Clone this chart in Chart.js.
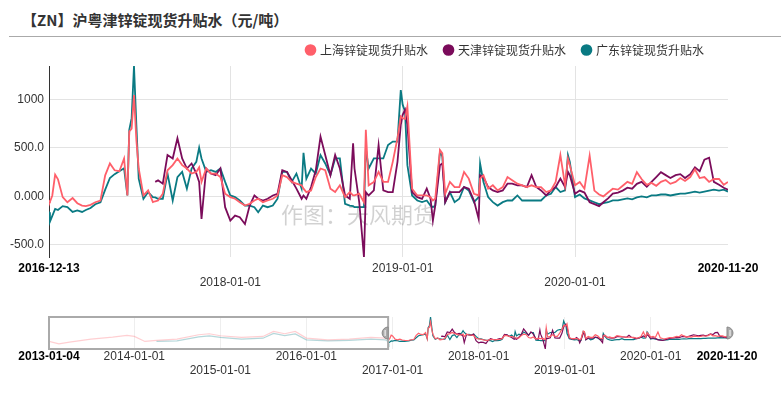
<!DOCTYPE html>
<html>
<head>
<meta charset="utf-8">
<script src="https://cdn.jsdelivr.net/npm/chart.js@4.4.1/dist/chart.umd.min.js"></script>
<style>
  body { margin: 0; background: #fff; width: 781px; height: 395px; overflow: hidden; position: relative; }
  #title { position: absolute; left: 22px; top: 9px; font: bold 15px "Noto Sans CJK SC", sans-serif; color: #333; line-height: 22px; }
  #rule { position: absolute; left: 9px; right: 0; top: 36px; height: 1px; background: #aaa; }
  #main { position: absolute; left: 0; top: 27px; }
  #nav { position: absolute; left: 0; top: 300px; }
</style>
</head>
<body>
<div id="title">【ZN】沪粤津锌锭现货升贴水（元/吨）</div>
<div id="rule"></div>
<canvas id="main" width="781" height="268"></canvas>
<canvas id="nav" width="781" height="80"></canvas>
<script>
// dates (pre-2016-12-13 part only shows up in the zoom strip)
const dates = [
  '2013-01-04','2013-02-15','2013-04-01','2013-07-01','2013-10-01','2013-12-01','2014-01-01','2014-02-15',
  '2014-04-05','2014-07-01','2014-10-01','2014-11-15','2015-01-01','2015-04-01','2015-07-01','2015-08-15',
  '2015-10-01','2015-11-15','2016-01-01','2016-04-01','2016-07-01','2016-10-01','2016-12-01',
  '2016-12-13','2016-12-15','2016-12-20','2016-12-26',
  '2017-01-01','2017-01-11','2017-01-21','2017-02-01','2017-02-11','2017-02-21','2017-03-01','2017-03-11','2017-03-21',
  '2017-04-01','2017-04-11','2017-04-21','2017-05-01','2017-05-11','2017-05-21','2017-05-28',
  '2017-06-01','2017-06-06','2017-06-11','2017-06-16','2017-06-21','2017-07-01','2017-07-11','2017-07-21','2017-07-26',
  '2017-08-01','2017-08-11','2017-08-21','2017-09-01','2017-09-11','2017-09-21',
  '2017-10-01','2017-10-11','2017-10-21','2017-10-27','2017-11-01','2017-11-11','2017-11-21','2017-12-01','2017-12-11','2017-12-21',
  '2018-01-01','2018-01-11','2018-01-21','2018-02-01','2018-02-11','2018-02-21','2018-03-01','2018-03-11','2018-03-21',
  '2018-04-01','2018-04-11','2018-04-21','2018-05-01','2018-05-11','2018-05-21','2018-06-01','2018-06-05','2018-06-11','2018-06-21',
  '2018-07-01','2018-07-11','2018-07-21','2018-08-01','2018-08-11','2018-08-21','2018-09-01','2018-09-11','2018-09-18','2018-09-21',
  '2018-10-01','2018-10-11','2018-10-15','2018-10-21','2018-11-01','2018-11-11','2018-11-21','2018-12-01','2018-12-11','2018-12-21','2018-12-28',
  '2019-01-01','2019-01-06','2019-01-11','2019-01-21','2019-02-01','2019-02-11','2019-02-21',
  '2019-03-01','2019-03-06','2019-03-11','2019-03-21','2019-03-26','2019-04-01','2019-04-11','2019-04-21',
  '2019-05-01','2019-05-11','2019-05-21','2019-06-01','2019-06-11','2019-06-14','2019-06-21',
  '2019-07-01','2019-07-11','2019-07-21','2019-08-01','2019-08-11','2019-08-21','2019-09-01','2019-09-11','2019-09-21',
  '2019-10-01','2019-10-11','2019-10-21','2019-11-01','2019-11-11','2019-11-21','2019-12-01','2019-12-11','2019-12-17','2019-12-21',
  '2020-01-01','2020-01-11','2020-01-21','2020-02-01','2020-02-11','2020-02-21','2020-03-01','2020-03-11','2020-03-21',
  '2020-04-01','2020-04-11','2020-04-21','2020-05-01','2020-05-11','2020-05-21','2020-06-01','2020-06-11','2020-06-21',
  '2020-07-01','2020-07-11','2020-07-21','2020-08-01','2020-08-11','2020-08-21','2020-09-01','2020-09-11','2020-09-21',
  '2020-10-01','2020-10-11','2020-10-21','2020-11-01','2020-11-11','2020-11-20'
];

const shanghai = [
  -160,-304,-201,-16,108,211,149,-160,
  -98,-16,252,314,190,87,149,458,
  314,458,46,-57,-16,87,46,
  -52,-55,10,225,
  177,-7,-60,-17,-70,-94,-100,-87,-60,
  -42,218,340,270,260,392,10,
  670,700,1045,583,288,10,62,-59,-50,
  -42,28,270,323,392,323,
  288,236,253,300,150,288,236,236,200,28,
  -7,-24,-59,-94,-76,-42,-24,-59,-42,
  -24,10,219,200,150,132,115,80,45,62,
  200,288,270,80,45,115,-7,45,10,10,
  28,-59,687,115,150,253,150,150,357,600,826,
  808,800,930,80,10,10,10,
  -7,-42,-24,479,444,28,150,97,
  97,253,184,28,10,184,219,
  80,115,62,97,200,167,132,115,97,
  115,97,97,45,62,150,427,115,392,323,
  115,150,80,420,60,20,0,40,80,
  70,110,150,130,250,180,120,140,110,
  150,170,130,150,190,160,200,280,190,
  200,150,180,180,120,150
];

const tianjin = [
  null,null,null,null,null,null,null,null,
  null,null,null,null,null,null,null,null,
  null,null,null,null,null,null,null,
  null,null,null,null,
  null,null,null,null,null,null,null,null,null,
  null,null,null,null,null,null,null,
  null,null,null,null,null,null,null,null,150,
  167,132,427,392,600,392,
  288,340,236,150,-232,288,236,219,288,-111,
  -250,-198,-215,-285,-94,10,-24,-42,-24,
  10,28,270,253,167,80,-24,10,-24,97,
  270,618,427,219,427,288,10,-24,548,288,
  -59,-625,45,10,62,530,62,45,45,357,739,
  843,895,739,45,-7,-24,80,
  -24,-250,-94,323,340,-59,45,45,
  45,97,80,-42,-232,219,200,
  97,62,45,62,132,132,115,115,97,
  219,97,62,10,62,97,184,97,253,219,
  28,60,40,-60,-80,-100,-60,-20,30,
  40,60,90,80,130,150,100,150,200,
  250,220,190,220,230,190,230,300,260,
  380,400,150,120,90,70
];

const guangdong = [
  null,null,null,null,null,null,null,null,
  -150,-130,120,180,90,-20,40,330,
  200,300,-60,-130,-90,-20,-60,
  -163,-260,-200,-128,
  -140,-100,-110,-160,-145,-160,-140,-120,-80,
  -60,70,190,230,260,290,10,
  687,808,1346,740,184,-24,45,-7,-10,
  -24,-24,236,-42,200,253,
  80,288,357,503,392,253,270,253,288,150,
  10,-7,-42,-94,-94,-111,-163,-94,-111,
  -94,-24,253,253,150,236,80,451,184,288,
  236,427,340,219,392,392,-76,-94,-100,-111,
  -111,-111,496,288,392,392,392,530,566,566,1097,
  947,878,323,10,-42,-59,-42,
  -94,-111,-94,461,410,-59,45,-59,
  -24,97,62,-59,-7,340,150,
  -7,-59,-94,-59,-42,-42,10,-42,-42,
  -42,-42,-42,10,28,97,45,62,427,357,
  -7,20,-20,-40,-60,-80,-70,-60,-40,
  -40,-30,-20,-30,-10,0,-10,10,10,
  20,20,10,20,30,30,40,50,40,
  50,60,70,60,70,50
];

const seriesNames = ['上海锌锭现货升贴水', '天津锌锭现货升贴水', '广东锌锭现货升贴水'];

// axis ticks; row 1 = label pushed down one line
const mainTicks = ['2016-12-13', '2018-01-01', '2019-01-01', '2020-01-01', '2020-11-20'];
const mainRows = [0, 1, 0, 1, 0];
const navTicks = ['2013-01-04', '2014-01-01', '2015-01-01', '2016-01-01', '2017-01-01',
                  '2018-01-01', '2019-01-01', '2020-01-01', '2020-11-20'];
const navRows = [0, 0, 1, 0, 1, 0, 1, 0, 0];
const yTicks = [-500, 0, 500, 1000];
const yTickLabels = ['-500.0', '0.000', '500.0', '1000'];

const latin = '"Liberation Sans", Arial, sans-serif';
const cjk = '"Noto Sans CJK SC", sans-serif';
Chart.defaults.font.family = latin;

const toDay = s => Date.parse(s) / 86400000;
const xs = dates.map(toDay);
const pts = vals => vals.map((v, i) => ({ x: xs[i], y: v }));

const colors = ['#ff5f6a', '#7b0c5b', '#0a7a83'];
const faded = ['rgba(255,95,106,0.3)', 'rgba(123,12,91,0.3)', 'rgba(10,122,131,0.3)'];
const allSeries = [shanghai, tianjin, guangdong];

const allVals = allSeries.flat().filter(v => v !== null);
const yMin = Math.min(...allVals);
const yMax = Math.max(...allVals);

const mainStart = toDay(mainTicks[0]);
const mainEnd = toDay(mainTicks[mainTicks.length - 1]);

const isEdge = (i, n) => i === 0 || i === n - 1;

const watermark = {
  id: 'watermark',
  beforeDatasetsDraw(chart) {
    const ctx = chart.ctx;
    ctx.save();
    ctx.font = '22px ' + cjk;
    ctx.fillStyle = 'rgba(0,0,0,0.18)';
    ctx.textAlign = 'center';
    ctx.textBaseline = 'middle';
    ctx.fillText('作图：天风期货', 358, 188);
    ctx.restore();
  }
};

// legend sits a bit left of the plot's right edge
const legendShift = {
  id: 'legendShift',
  afterLayout(chart) { chart.legend.right -= 7; }
};

new Chart(document.getElementById('main'), {
  type: 'line',
  data: {
    datasets: allSeries.map((vals, k) => ({
      label: seriesNames[k],
      data: pts(vals),
      borderColor: colors[k],
      backgroundColor: colors[k],
      borderWidth: 1.8,
      pointRadius: 0,
      pointHoverRadius: 0
    }))
  },
  options: {
    responsive: false,
    animation: false,
    devicePixelRatio: 1,
    layout: { padding: { left: 0, right: 53, top: 0, bottom: 0 } },
    plugins: {
      legend: {
        position: 'top',
        align: 'end',
        labels: {
          usePointStyle: true,
          pointStyle: 'circle',
          boxWidth: 7,
          boxHeight: 7,
          padding: 17,
          color: '#333',
          font: { family: cjk, size: 12 }
        }
      },
      tooltip: { enabled: false }
    },
    scales: {
      x: {
        type: 'linear',
        min: mainStart,
        max: mainEnd,
        afterBuildTicks: sc => { sc.ticks = mainTicks.map(d => ({ value: toDay(d) })); },
        afterFit: sc => { sc.height = 38; },
        border: { display: false },
        grid: {
          drawTicks: false,
          color: ctx => isEdge(ctx.index, mainTicks.length) ? 'rgba(0,0,0,0)' : '#e3e3e3'
        },
        ticks: {
          autoSkip: false,
          maxRotation: 0,
          padding: 4,
          callback: (v, i) => mainRows[i] ? ['', mainTicks[i]] : mainTicks[i],
          color: ctx => isEdge(ctx.index, mainTicks.length) ? '#000' : '#333',
          font: ctx => ({ family: latin, size: 12, weight: isEdge(ctx.index, mainTicks.length) ? 'bold' : 'normal' })
        }
      },
      y: {
        min: yMin,
        max: yMax,
        afterBuildTicks: sc => { sc.ticks = yTicks.map(v => ({ value: v })); },
        afterFit: sc => { sc.width = 49; },
        border: { display: true, color: '#333', width: 1 },
        grid: { drawTicks: false, color: '#e3e3e3' },
        ticks: {
          padding: 5,
          color: '#333',
          font: { family: latin, size: 12 },
          callback: (v, i) => yTickLabels[i]
        }
      }
    }
  },
  plugins: [watermark, legendShift]
});

// zoom strip under the chart
const navFrame = {
  id: 'navFrame',
  afterDraw(chart) {
    const { ctx, chartArea: a, scales: { x } } = chart;
    const sx = x.getPixelForValue(mainStart);
    const cy = (a.top + a.bottom) / 2;
    ctx.save();
    ctx.strokeStyle = '#aaa';
    ctx.lineWidth = 2;
    ctx.strokeRect(a.left, a.top, sx - a.left, a.bottom - a.top);
    const handle = (hx, dir) => {
      ctx.beginPath();
      if (dir < 0) ctx.arc(hx, cy, 6, Math.PI / 2, Math.PI * 1.5);
      else ctx.arc(hx, cy, 6, -Math.PI / 2, Math.PI / 2);
      ctx.closePath();
      ctx.fillStyle = '#aaa';
      ctx.fill();
      ctx.strokeStyle = '#888';
      ctx.lineWidth = 1;
      ctx.stroke();
      ctx.beginPath();
      ctx.moveTo(hx + dir * 3, cy - 3);
      ctx.lineTo(hx + dir * 3, cy + 3);
      ctx.strokeStyle = '#fff';
      ctx.stroke();
    };
    handle(sx, -1);
    handle(a.right, 1);
    ctx.restore();
  }
};

new Chart(document.getElementById('nav'), {
  type: 'line',
  data: {
    datasets: allSeries.map((vals, k) => ({
      data: pts(vals),
      borderColor: colors[k],
      borderWidth: 1.2,
      pointRadius: 0,
      pointHoverRadius: 0,
      segment: { borderColor: ctx => ctx.p1.parsed.x <= mainStart ? faded[k] : undefined }
    }))
  },
  options: {
    responsive: false,
    animation: false,
    devicePixelRatio: 1,
    layout: { padding: { left: 49, right: 54, top: 17, bottom: 0 } },
    plugins: { legend: { display: false }, tooltip: { enabled: false } },
    scales: {
      x: {
        type: 'linear',
        min: toDay(navTicks[0]),
        max: toDay(navTicks[navTicks.length - 1]),
        afterBuildTicks: sc => { sc.ticks = navTicks.map(d => ({ value: toDay(d) })); },
        afterFit: sc => { sc.height = 31; },
        border: { display: false },
        grid: {
          drawTicks: false,
          color: ctx => isEdge(ctx.index, navTicks.length) ? 'rgba(0,0,0,0)' : '#eee'
        },
        ticks: {
          autoSkip: false,
          maxRotation: 0,
          padding: 0,
          callback: (v, i) => navRows[i] ? ['', navTicks[i]] : navTicks[i],
          color: ctx => isEdge(ctx.index, navTicks.length) ? '#000' : '#333',
          font: ctx => ({ family: latin, size: 12, weight: isEdge(ctx.index, navTicks.length) ? 'bold' : 'normal' })
        }
      },
      y: { display: false, min: yMin, max: yMax }
    }
  },
  plugins: [navFrame]
});
</script>
</body>
</html>
